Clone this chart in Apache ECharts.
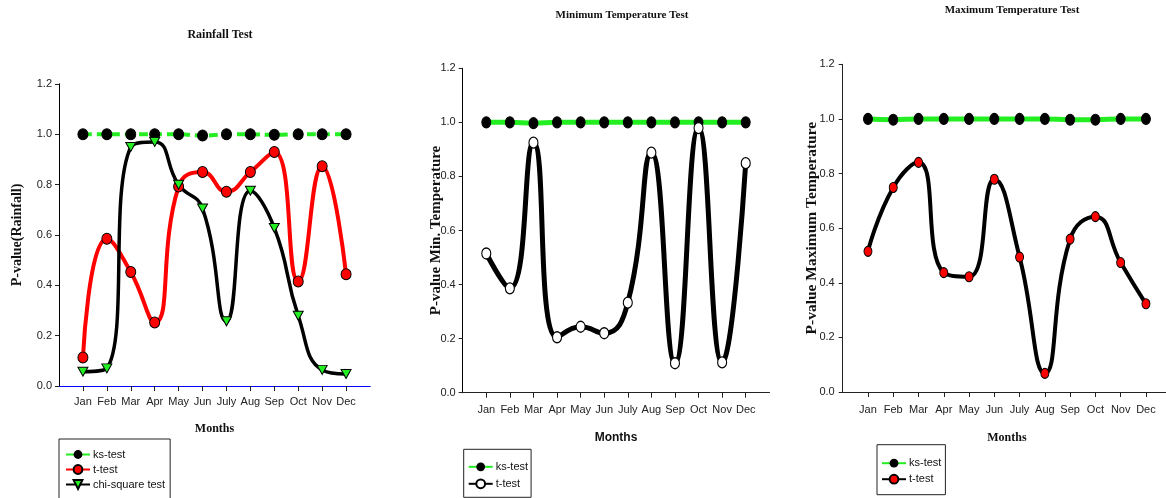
<!DOCTYPE html>
<html>
<head>
<meta charset="utf-8">
<script src="https://cdn.jsdelivr.net/npm/echarts@6/dist/echarts.min.js"></script>
<style>
html,body{margin:0;padding:0;background:#fff;}
#wrap{position:relative;width:1166px;height:498px;overflow:hidden;}
.c{position:absolute;top:0;height:498px;}
</style>
</head>
<body>
<div id="wrap">
  <div id="c1" class="c" style="left:0;width:400px;"></div>
  <div id="c2" class="c" style="left:400px;width:390px;"></div>
  <div id="c3" class="c" style="left:790px;width:400px;"></div>
</div>
<script>
// ---------- data ----------
const months = ['Jan','Feb','Mar','Apr','May','Jun','July','Aug','Sep','Oct','Nov','Dec'];
const monthIndex = [1,2,3,4,5,6,7,8,9,10,11,12];

// Rainfall Test
const rainKs   = [1.0, 1.0, 1.0, 1.0, 1.0, 0.995, 1.0, 1.0, 0.998, 1.0, 1.0, 1.0];
const rainT    = [0.113, 0.585, 0.453, 0.252, 0.793, 0.85, 0.772, 0.85, 0.93, 0.415, 0.873, 0.444];
const rainChi  = [0.057, 0.07, 0.95, 0.97, 0.80, 0.705, 0.257, 0.776, 0.628, 0.279, 0.064, 0.048];

// Minimum Temperature Test
const minKs    = [1.0, 1.0, 0.997, 1.0, 1.0, 1.0, 1.0, 1.0, 1.0, 1.0, 1.0, 1.0];
const minT     = [0.515, 0.386, 0.925, 0.205, 0.244, 0.22, 0.333, 0.888, 0.109, 0.979, 0.112, 0.849];

// Maximum Temperature Test
const maxKs    = [1.0, 0.997, 1.0, 1.0, 1.0, 1.0, 1.0, 1.0, 0.997, 0.997, 1.0, 1.0];
const maxT     = [0.515, 0.749, 0.841, 0.437, 0.422, 0.779, 0.494, 0.068, 0.560, 0.642, 0.474, 0.323];

const yTickValues = [0.0, 0.2, 0.4, 0.6, 0.8, 1.0, 1.2];

// ---------- helpers ----------
const SANS = "'Liberation Sans Narrow','Arial Narrow','Liberation Sans',Arial,sans-serif";
const SERIF = "'Liberation Serif','Times New Roman',serif";

function pairs(vals){ return vals.map((v,i)=>[monthIndex[i], v]); }

function build(cfg){
  const xAxes = [{
    type:'value', min:0, max:13, interval:1, position:'bottom',
    axisLine:{show:true, lineStyle:{color:cfg.bottomColor, width:1}},
    axisTick:{show:true, inside:false, length:5, customValues: monthIndex, lineStyle:{color:'#222'}},
    axisLabel:{show:true, customValues: monthIndex, margin:cfg.xLabelMargin, color:'#222',
      fontFamily:SANS, fontSize:11, formatter:(v)=>months[v-1] || ''},
    splitLine:{show:false},
    name:'Months', nameLocation:'middle', nameGap:cfg.monthsGap, nameMoveOverlap:false,
    nameTextStyle:{fontFamily:cfg.monthsFont, fontWeight:'bold', fontSize:12, color:'#111'}
  },{
    type:'value', min:0, max:13, position:'top',
    axisLine:{show:true, lineStyle:{color:cfg.topColor, width:1}},
    axisTick:{show:false}, axisLabel:{show:false}, splitLine:{show:false}
  }];
  const yAxes = [{
    type:'value', min:0, max:1.2, interval:0.2, position:'left',
    axisLine:{show:true, lineStyle:{color:'#222', width:1}},
    axisTick:{show:true, inside:false, length:4, lineStyle:{color:'#222'}},
    axisLabel:{margin:cfg.yLabelMargin, color:'#222', fontFamily:SANS, fontSize:11,
      customValues: yTickValues, formatter:(v)=>v.toFixed(1)},
    splitLine:{show:false},
    name:cfg.yName, nameLocation:'middle', nameGap:cfg.yNameGap, nameMoveOverlap:false,
    nameTextStyle:{fontFamily:SERIF, fontWeight:'bold', fontSize:cfg.yNameSize, color:'#111'}
  },{
    type:'value', min:0, max:1.2, position:'right', show:cfg.rightBorder,
    axisLine:{show:true, lineStyle:{color:'#000', width:1}},
    axisTick:{show:false}, axisLabel:{show:false}, splitLine:{show:false}
  }];
  return {
    animation:false,
    backgroundColor:'transparent',
    title:{text:cfg.title, left:cfg.titleX, top:cfg.titleTop, textAlign:'center',
      textStyle:{fontFamily:SERIF, fontWeight:'bold', fontSize:cfg.titleSize, color:'#111'}},
    grid:cfg.grid,
    xAxis:xAxes, yAxis:yAxes,
    legend:Object.assign({
      orient:'vertical', itemWidth:24, itemHeight:11,
      borderColor:'#222', borderWidth:1, backgroundColor:'#fff',
      textStyle:{fontFamily:SANS, fontSize:11, color:'#111', padding:[0,0,0,-2]},
      lineStyle:{type:'solid'}
    }, cfg.legend),
    series:cfg.series
  };
}

// ---------- chart 1: Rainfall ----------
const opt1 = build({
  title:'Rainfall Test', titleX:215, titleTop:24, titleSize:12,
  grid:{left:59, top:84, width:311, height:302},
  bottomColor:'#0000ff', topColor:'#0000ff', rightBorder:true,
  xLabelMargin:10, yLabelMargin:7, monthsGap:37, monthsFont:SERIF,
  yName:'P-value(Rainfall)', yNameGap:35, yNameSize:14,
  legend:{left:59, top:439, height:80, padding:[10,5,10,6], itemGap:4,
    data:['ks-test','t-test','chi-square test']},
  series:[
    {name:'ks-test', type:'line', data:pairs(rainKs), smooth:0.5,
      lineStyle:{color:'#22ee22', width:4, type:[9,5]},
      symbol:'circle', symbolSize:[10,11], itemStyle:{color:'#000', borderColor:'#000'}},
    {name:'t-test', type:'line', data:pairs(rainT), smooth:0.5,
      lineStyle:{color:'#ff0000', width:4},
      symbol:'circle', symbolSize:[10,11], itemStyle:{color:'#ff0000', borderColor:'#000', borderWidth:1}},
    {name:'chi-square test', type:'line', data:pairs(rainChi), smooth:0.5,
      lineStyle:{color:'#000', width:3.5},
      symbol:'triangle', symbolRotate:180, symbolSize:[10,9],
      itemStyle:{color:'#22ee22', borderColor:'#000', borderWidth:1}}
  ]
});

// ---------- chart 2: Minimum Temperature ----------
const opt2 = build({
  title:'Minimum Temperature Test', titleX:217, titleTop:5, titleSize:11,
  grid:{left:62.7, top:68.3, width:306.6, height:324.4},
  bottomColor:'#222', topColor:'#222', rightBorder:true,
  xLabelMargin:12, yLabelMargin:7, monthsGap:39, monthsFont:SANS,
  yName:'P-value Min. Temperature', yNameGap:19, yNameSize:15,
  legend:{left:63.7, top:449.3, height:60, padding:[12,3,8,4], itemGap:6,
    data:['ks-test','t-test']},
  series:[
    {name:'ks-test', type:'line', data:pairs(minKs), smooth:0.5,
      lineStyle:{color:'#22ee22', width:5},
      symbol:'circle', symbolSize:[9,11], itemStyle:{color:'#000', borderColor:'#000'}},
    {name:'t-test', type:'line', data:pairs(minT), smooth:0.5,
      lineStyle:{color:'#000', width:5},
      symbol:'circle', symbolSize:[9,11], itemStyle:{color:'#fff', borderColor:'#000', borderWidth:1.2}}
  ]
});

// ---------- chart 3: Maximum Temperature ----------
const opt3 = build({
  title:'Maximum Temperature Test', titleX:217, titleTop:0, titleSize:11,
  grid:{left:52.7, top:64.3, width:328.5, height:327.7},
  bottomColor:'#222', topColor:'#222', rightBorder:false,
  xLabelMargin:12, yLabelMargin:8, monthsGap:40, monthsFont:SERIF,
  yName:'P-value Maximum Temperature', yNameGap:23, yNameSize:15.5,
  legend:{left:87, top:444.7, height:60, padding:[13,4,10,4], itemGap:5,
    data:['ks-test','t-test']},
  series:[
    {name:'ks-test', type:'line', data:pairs(maxKs), smooth:0.5,
      lineStyle:{color:'#22ee22', width:5},
      symbol:'circle', symbolSize:[9,11], itemStyle:{color:'#000', borderColor:'#000'}},
    {name:'t-test', type:'line', data:pairs(maxT), smooth:0.5,
      lineStyle:{color:'#000', width:4},
      symbol:'circle', symbolSize:[8,10], itemStyle:{color:'#ff0000', borderColor:'#000', borderWidth:1}}
  ]
});

echarts.init(document.getElementById('c1'), null, {renderer:'canvas'}).setOption(opt1);
echarts.init(document.getElementById('c2'), null, {renderer:'canvas'}).setOption(opt2);
echarts.init(document.getElementById('c3'), null, {renderer:'canvas'}).setOption(opt3);
</script>
</body>
</html>
